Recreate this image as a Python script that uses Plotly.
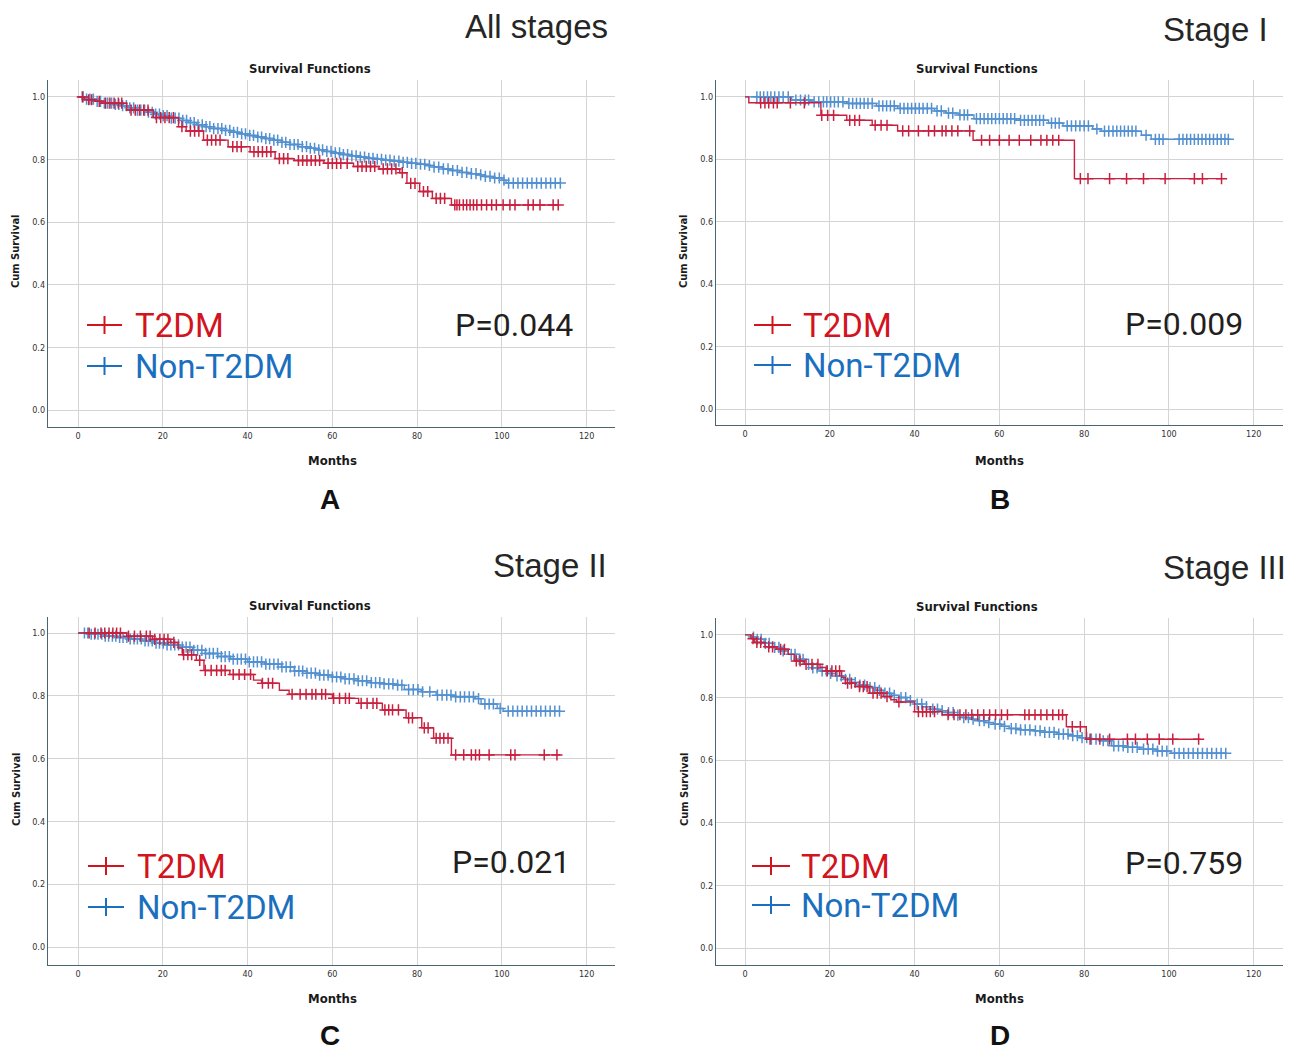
import numpy as np
import plotly.graph_objects as go

# ---------------- DATA ----------------
# Panel A (All stages)
A_t2dm_event_t = [1.5, 4, 5.5, 11.5, 17.8, 23.7, 25.5, 29.6, 35.4, 40.6, 46.5, 51, 58, 65, 71, 75.9, 77.6, 80.6, 83.6, 88.1]
A_t2dm_surv = [0.991, 0.986, 0.98, 0.958, 0.934, 0.905, 0.891, 0.862, 0.841, 0.825, 0.803, 0.797, 0.788, 0.778, 0.77, 0.758, 0.724, 0.698, 0.676, 0.655]
A_t2dm_end = 113.3
A_t2dm_cens = [1, 2.5, 3.2, 5, 6.5, 7.5, 8.5, 9.5, 10.3, 12.5, 13.5, 14.5, 15.5, 16.5, 18.5, 19.5, 20.5, 21.5, 22.5, 24.5,
               26.5, 27.5, 28.5, 30.5, 31.5, 32.5, 33.5, 36.5, 37.5, 38.5, 41.5, 42.5, 43.5, 44.5, 45.5, 47.5, 48.5, 49.5,
               52, 53, 54, 55, 56, 57, 59, 60, 61, 62, 63.5, 66, 67, 68, 69, 70, 72, 73, 74, 75, 76.5, 78.5, 79.5, 81.5,
               82.5, 84.5, 85.5, 86.5, 88.9, 89.4, 90.0, 90.9, 91.7, 92.5, 93.3, 94.1, 95.2, 96.4, 97.6, 98.7, 100.3,
               101.9, 103.1, 106.2, 107.4, 109, 112.1, 113.3]
A_non_event_t = [2, 4, 6, 8, 10, 12, 14, 16, 18, 20, 22, 24, 26, 28, 30, 32, 34, 36, 38, 40, 42, 44, 46, 48, 50, 52, 54,
                 56, 58, 60, 62, 64, 66, 68, 70, 72, 74, 76, 78, 80, 82, 84, 86, 88, 90, 92, 94, 96, 98, 100, 101]
A_non_surv = [0.993, 0.986, 0.98, 0.976, 0.972, 0.965, 0.958, 0.951, 0.945, 0.94, 0.932, 0.925, 0.918, 0.911, 0.905,
              0.899, 0.893, 0.887, 0.882, 0.877, 0.872, 0.867, 0.862, 0.855, 0.848, 0.841, 0.836, 0.831, 0.826, 0.821,
              0.816, 0.812, 0.808, 0.804, 0.801, 0.798, 0.795, 0.791, 0.788, 0.785, 0.781, 0.776, 0.77, 0.765, 0.759,
              0.755, 0.751, 0.746, 0.741, 0.734, 0.725]
A_non_end = 114.0
A_non_cens = [1.2, 2.0, 2.8, 3.6, 4.5, 5.3, 6.2, 7.0, 7.9, 8.8, 9.6, 10.5, 11.4, 12.2, 13.1, 14.0, 14.8, 15.7, 16.6, 17.5,
              18.3, 19.2, 20.1, 21.0, 22.0, 22.9, 23.8, 24.7, 25.6, 26.5, 27.4, 28.3, 29.3, 30.2, 31.1, 32.0, 33.0, 33.9,
              34.8, 35.8, 36.7, 37.6, 38.6, 39.5, 40.5, 41.4, 42.4, 43.3, 44.3, 45.2, 46.2, 47.1, 48.1, 49.0, 50.0,
              51.0, 51.9, 52.9, 53.9, 54.8, 55.8, 56.8, 57.7, 58.7, 59.7, 60.7, 61.7, 62.6, 63.6, 64.6, 65.6, 66.6,
              67.6, 68.6, 69.6, 70.6, 71.6, 72.6, 73.6, 74.6, 75.7, 76.7, 77.7, 78.7, 79.7, 80.8, 81.8, 82.9, 84.0,
              85.1, 86.2, 87.3, 88.4, 89.5, 90.6, 91.7, 92.8, 93.9, 95.0, 96.1, 97.2, 98.3, 99.4, 100.5, 101.6, 102.7,
              103.8, 104.9, 106.0, 107.1, 108.2, 109.3, 110.4, 111.5, 112.6, 113.8]

# Panel B (Stage I)
B_t2dm_event_t = [0.9, 17.9, 24, 30, 36, 53.8, 77.7]
B_t2dm_surv = [0.981, 0.941, 0.925, 0.909, 0.891, 0.861, 0.738]
B_t2dm_end = 112.4
B_t2dm_cens = [3.7, 4.7, 5.6, 6.7, 7.6, 10.7, 14, 18.1, 19.5, 20.9, 24.7, 25.9, 27, 30.7, 32.1, 33.5, 37.2, 38.6, 40.9,
               43.3, 44.7, 46.5, 47.4, 48.8, 50.2, 53, 55.8, 57.7, 60, 62.3, 64.7, 67.4, 69.8, 71.2, 72.6, 74, 79.1,
               80.9, 86, 90, 94, 99.1, 106, 107.9, 112.4]
B_non_event_t = [11, 15.8, 24, 31, 36, 44.7, 47.4, 50.5, 54, 64, 71.6, 75, 82, 84, 93.5, 95.8]
B_non_surv = [0.99, 0.984, 0.979, 0.971, 0.963, 0.955, 0.948, 0.942, 0.93, 0.925, 0.916, 0.907, 0.897, 0.89, 0.877, 0.864]
B_non_end = 114.0
B_non_cens = [2.8, 3.6, 4.4, 5.3, 6.1, 7.0, 8.0, 9.0, 10.2, 12.0, 13.1, 14.2, 15.0, 16.3, 17.4, 18.5, 19.3, 20.2, 21.1,
              22.0, 23.1, 24.5, 25.4, 26.3, 27.2, 28.1, 29.0, 30.0, 31.6, 32.5, 33.4, 34.3, 35.2, 36.6, 37.5, 38.4,
              39.3, 40.2, 41.1, 42.0, 43.0, 44.0, 45.3, 46.3, 48.0, 49.0, 50.7, 51.7, 52.5, 54.6, 55.5, 56.4, 57.3,
              58.2, 59.1, 60.0, 60.9, 61.8, 62.7, 63.6, 65.0, 65.9, 66.8, 67.7, 68.6, 69.5, 70.4, 72.3, 73.2, 74.1,
              76.0, 77.0, 78.0, 79.0, 80.0, 81.0, 83.0, 84.8, 85.8, 86.8, 87.7, 88.6, 89.5, 90.4, 91.3, 92.2, 94.6,
              96.8, 97.7, 98.6, 102.4, 103.3, 104.2, 105.1, 106.0, 106.9, 107.8, 108.7, 109.6, 110.5, 111.4, 112.3,
              113.2, 114.0]

# Panel C (Stage II)
C_t2dm_event_t = [11.5, 17.6, 21.8, 23.6, 24.6, 27.9, 29.7, 35.8, 41.4, 43.3, 47.5, 49.8, 60, 66.2, 71.8, 77.4, 81.1, 83.9, 88.1]
C_t2dm_surv = [0.99, 0.98, 0.97, 0.952, 0.931, 0.913, 0.881, 0.868, 0.85, 0.84, 0.818, 0.805, 0.792, 0.776, 0.755, 0.73, 0.698, 0.665, 0.612]
C_t2dm_end = 113.8
C_t2dm_cens = [2.6, 4.0, 5.4, 6.3, 7.3, 8.2, 9.1, 10.0, 11.9, 13.3, 14.7, 16.1, 17.0, 18.1, 19.3, 20.3, 21.2, 22.6, 24.9,
               25.9, 26.8, 28.7, 30.0, 31.4, 32.7, 33.8, 34.7, 36.6, 38.0, 39.3, 40.7, 43.5, 44.9, 45.9, 50.5, 52.4,
               53.8, 55.2, 56.1, 57.5, 58.4, 60.3, 61.7, 63.1, 64.0, 66.8, 68.2, 69.6, 70.5, 72.4, 73.3, 74.2, 75.6,
               78.0, 78.9, 81.7, 82.6, 84.5, 85.4, 86.3, 87.3, 89.1, 91.0, 92.8, 93.8, 94.7, 97.0, 102.1, 103.1, 110.0, 113.0]
C_non_event_t = [3, 6, 9, 12, 15, 18, 21, 24, 27, 30, 33, 36, 40, 44, 48, 51, 54, 57, 60, 63, 66, 69, 72, 75, 77, 81,
                 84.5, 89, 93.7, 95.1, 98.9, 100.3]
C_non_surv = [0.996, 0.99, 0.986, 0.981, 0.975, 0.968, 0.962, 0.955, 0.945, 0.935, 0.925, 0.917, 0.908, 0.901, 0.892,
              0.879, 0.872, 0.866, 0.86, 0.854, 0.848, 0.842, 0.838, 0.834, 0.82, 0.813, 0.802, 0.797, 0.791, 0.774,
              0.76, 0.751]
C_non_end = 113.8
C_non_cens = [1.5, 2.3, 3.1, 3.9, 4.7, 5.6, 6.4, 7.2, 8.1, 8.9, 9.8, 10.6, 11.5, 12.3, 13.2, 14.0, 14.9, 15.8, 16.6,
              17.5, 18.4, 19.2, 20.1, 21.0, 21.9, 22.8, 23.7, 24.6, 25.5, 26.4, 27.3, 28.2, 29.2, 30.1, 31.0, 31.9,
              32.9, 33.8, 34.7, 35.7, 36.6, 37.6, 38.5, 39.5, 40.4, 41.4, 42.3, 43.3, 44.3, 45.2, 46.2, 47.2, 48.1,
              49.1, 50.1, 51.1, 52.1, 53.0, 54.0, 55.0, 56.0, 57.0, 58.0, 59.0, 60.0, 61.0, 62.0, 63.0, 64.0, 65.1,
              66.1, 67.1, 68.1, 69.2, 70.2, 71.2, 72.2, 73.3, 74.3, 75.4, 76.4, 78.0, 79.1, 80.2, 81.3, 83.0, 84.8,
              85.9, 87.0, 88.0, 89.1, 90.2, 91.2, 92.3, 93.3, 94.5, 96.0, 97.0, 98.0, 99.6, 101.5, 102.6, 103.7,
              104.8, 105.9, 107.0, 108.1, 109.2, 110.3, 111.4, 112.5, 113.6]

# Panel D (Stage III)
D_t2dm_event_t = [1.4, 2.3, 4.7, 7.4, 10.2, 11.6, 14, 17.7, 19.1, 22.8, 23.7, 26, 29.3, 32.6, 34.4, 35.8, 40, 46.5, 75.8, 80.5]
D_t2dm_surv = [0.988, 0.976, 0.962, 0.954, 0.938, 0.917, 0.906, 0.896, 0.885, 0.864, 0.846, 0.835, 0.814, 0.803, 0.793,
               0.786, 0.755, 0.745, 0.707, 0.667]
D_t2dm_end = 107.4
D_t2dm_cens = [1.9, 2.8, 3.7, 5.6, 6.5, 8.4, 9.3, 12.1, 13.0, 14.4, 15.8, 17.2, 19.4, 20.5, 21.4, 22.3, 24.2, 25.1, 27.0,
               27.9, 28.8, 30.2, 31.2, 32.1, 33.5, 36.3, 40.9, 41.9, 42.8, 43.7, 44.7, 47.9, 49.3, 50.7, 52.1, 53.5,
               54.9, 56.3, 57.7, 59.1, 60.5, 61.9, 66.0, 67.0, 68.4, 69.8, 71.2, 72.6, 74.0, 74.9, 77.2, 79.1, 81.4,
               83.7, 86.0, 90.2, 92.1, 94.9, 97.7, 100.9, 107.0]
D_non_event_t = [1.5, 2.8, 4.5, 6.5, 8.5, 10.2, 12, 14, 16, 17.7, 19.5, 21.4, 23.3, 25.1, 27, 28.8, 30.7, 32.6, 34.5,
                 36.3, 38.2, 40, 41.8, 43.7, 45.5, 47.4, 49.3, 51.2, 53, 54.9, 56.8, 58.6, 60.5, 62.3, 65, 67.9, 70.7,
                 73.5, 76.3, 79, 81.5, 83.7, 86.5, 90, 93, 97, 100.5]
D_non_surv = [0.993, 0.986, 0.973, 0.96, 0.949, 0.938, 0.922, 0.906, 0.895, 0.885, 0.877, 0.869, 0.858, 0.848, 0.84,
              0.832, 0.823, 0.814, 0.807, 0.8, 0.79, 0.779, 0.771, 0.763, 0.758, 0.752, 0.744, 0.736, 0.731, 0.726,
              0.72, 0.715, 0.708, 0.701, 0.697, 0.694, 0.689, 0.683, 0.678, 0.672, 0.667, 0.662, 0.646, 0.641, 0.635,
              0.629, 0.622]
D_non_end = 113.5
D_non_cens = [2.0, 2.9, 3.8, 4.8, 5.7, 7.0, 8.0, 9.0, 10.9, 11.8, 12.8, 13.7, 15.0, 16.0, 17.0, 18.2, 19.2, 20.2, 21.7,
              22.7, 23.7, 24.7, 26.0, 27.1, 28.2, 29.5, 30.6, 31.7, 33.0, 34.1, 35.2, 36.8, 37.9, 39.0, 40.6, 41.7,
              42.8, 44.3, 45.4, 46.5, 48.0, 49.1, 50.2, 51.6, 52.7, 53.8, 55.3, 56.4, 57.5, 59.0, 60.1, 61.2, 62.8,
              63.9, 65.0, 66.1, 67.2, 68.5, 69.6, 70.7, 71.8, 72.9, 74.0, 75.1, 76.2, 77.3, 78.4, 79.5, 80.6, 81.7,
              82.8, 84.5, 85.6, 87.0, 88.1, 89.2, 90.3, 91.4, 92.5, 94.0, 95.1, 96.2, 97.3, 98.4, 99.5, 101.3, 102.4,
              103.5, 104.6, 105.7, 106.8, 107.9, 109.0, 110.1, 111.2, 112.3, 113.4]

x_ticks = [0, 20, 40, 60, 80, 100, 120]
y_ticks = [0.0, 0.2, 0.4, 0.6, 0.8, 1.0]
stage_titles = ["All stages", "Stage I", "Stage II", "Stage III"]
p_values = ["P=0.044", "P=0.009", "P=0.021", "P=0.759"]
panel_letters = ["A", "B", "C", "D"]
group_names = ["T2DM", "Non-T2DM"]

# ---------------- STYLE / LAYOUT ----------------
W, H = 1295, 1052
RED = '#c8203e'
BLUE = '#5290d0'
RED_TXT = '#d2141e'
BLUE_TXT = '#1a6fbe'
GRID = '#d4d4d4'
TICKFONT = dict(family="Liberation Sans Narrow, DejaVu Sans Condensed, Arial", size=9, color='#333333')
BOLDFAM = "Liberation Sans Narrow, DejaVu Sans Condensed, Arial"
BIGFAM = "Roboto, Arial"

def px(xp):
    return xp / W

def py(yp):
    return 1 - yp / H

panels = [
    dict(x0=48, x1=615, y0=80, y1=427, xr=[-7.1, 126.7], yr=[-0.054, 1.054],
         red=(A_t2dm_event_t, A_t2dm_surv, A_t2dm_end, A_t2dm_cens),
         blue=(A_non_event_t, A_non_surv, A_non_end, A_non_cens),
         title_xy=(610, 27), sf_xy=(310, 68), cum_xy=(16, 252), mo_xy=(332, 460), let_xy=(330, 499),
         leg_x=(87, 122), leg_y=(325, 366), leg_tx=133, p_xy=(575, 325)),
    dict(x0=716, x1=1283, y0=80, y1=425, xr=[-6.84, 126.9], yr=[-0.051, 1.054],
         red=(B_t2dm_event_t, B_t2dm_surv, B_t2dm_end, B_t2dm_cens),
         blue=(B_non_event_t, B_non_surv, B_non_end, B_non_cens),
         title_xy=(1270, 30), sf_xy=(977, 68), cum_xy=(684, 252), mo_xy=(999, 460), let_xy=(1000, 499),
         leg_x=(754, 791), leg_y=(325, 365), leg_tx=801, p_xy=(1245, 324)),
    dict(x0=48, x1=615, y0=617, y1=965, xr=[-7.1, 126.7], yr=[-0.057, 1.051],
         red=(C_t2dm_event_t, C_t2dm_surv, C_t2dm_end, C_t2dm_cens),
         blue=(C_non_event_t, C_non_surv, C_non_end, C_non_cens),
         title_xy=(609, 565), sf_xy=(310, 605), cum_xy=(16, 790), mo_xy=(332, 998), let_xy=(330, 1035),
         leg_x=(88, 124), leg_y=(866, 907), leg_tx=135, p_xy=(572, 862)),
    dict(x0=716, x1=1283, y0=618, y1=965, xr=[-6.84, 126.9], yr=[-0.054, 1.054],
         red=(D_t2dm_event_t, D_t2dm_surv, D_t2dm_end, D_t2dm_cens),
         blue=(D_non_event_t, D_non_surv, D_non_end, D_non_cens),
         title_xy=(1288, 567), sf_xy=(977, 606), cum_xy=(684, 790), mo_xy=(999, 998), let_xy=(1000, 1035),
         leg_x=(752, 790), leg_y=(866, 905), leg_tx=799, p_xy=(1245, 863)),
]

fig = go.Figure()
annotations = []
shapes = []

def step_xy(ev_t, surv, end):
    xs = [0.0] + list(ev_t) + [end]
    ys = [1.0] + list(surv) + [surv[-1]]
    return xs, ys

def cens_y(ev_t, surv, cens):
    t = np.asarray(ev_t, dtype=float)
    s = np.asarray(surv, dtype=float)
    idx = np.searchsorted(t, np.asarray(cens, dtype=float), side='right') - 1
    return [1.0 if i < 0 else float(s[i]) for i in idx]

for i, p in enumerate(panels):
    n = '' if i == 0 else str(i + 1)
    xa, ya = 'x' + n, 'y' + n
    for key, col in (('blue', BLUE), ('red', RED)):
        ev_t, surv, end, cens = p[key]
        xs, ys = step_xy(ev_t, surv, end)
        fig.add_trace(go.Scatter(x=xs, y=ys, mode='lines', line=dict(color=col, width=1.4, shape='hv'),
                                 xaxis=xa, yaxis=ya, showlegend=False, hoverinfo='skip'))
        fig.add_trace(go.Scatter(x=cens, y=cens_y(ev_t, surv, cens), mode='markers',
                                 marker=dict(symbol='cross-thin', size=8, color=col, line=dict(width=1.5, color=col)),
                                 xaxis=xa, yaxis=ya, showlegend=False, hoverinfo='skip'))
    xdom = [px(p['x0']), px(p['x1'])]
    ydom = [py(p['y1']), py(p['y0'])]
    fig.layout['xaxis' + n] = dict(domain=xdom, range=p['xr'], anchor=ya, tickvals=x_ticks,
                                   showgrid=True, gridcolor=GRID, gridwidth=1.2, zeroline=False,
                                   showline=True, linecolor='#4a6470', linewidth=1.2, ticks='',
                                   tickfont=TICKFONT, fixedrange=True)
    fig.layout['yaxis' + n] = dict(domain=ydom, range=p['yr'], anchor=xa, tickvals=y_ticks, tickformat='.1f',
                                   showgrid=True, gridcolor=GRID, gridwidth=1.2, zeroline=False,
                                   showline=True, linecolor='#4a6470', linewidth=1.2, ticks='',
                                   tickfont=TICKFONT, fixedrange=True)

    def ann(text, xy, size, color='#222222', fam=BOLDFAM, xanchor='center', angle=0):
        annotations.append(dict(text=text, x=px(xy[0]), y=py(xy[1]), xref='paper', yref='paper',
                                showarrow=False, xanchor=xanchor, yanchor='middle', textangle=angle,
                                font=dict(family=fam, size=size, color=color)))

    ann(stage_titles[i], p['title_xy'], 33, color='#262626', fam="Liberation Sans, Arial", xanchor='right')
    ann('<b>Survival Functions</b>', p['sf_xy'], 13, color='#1a1a1a')
    ann('<b>Cum Survival</b>', p['cum_xy'], 11, color='#1a1a1a', angle=-90)
    ann('<b>Months</b>', p['mo_xy'], 13, color='#1a1a1a')
    ann('<b>' + panel_letters[i] + '</b>', p['let_xy'], 28, color='#111111', fam="Liberation Sans, Arial")
    ann(p_values[i], p['p_xy'], 32, color='#231f20', fam=BIGFAM, xanchor='right')
    for gname, ly, col in ((group_names[0], p['leg_y'][0], RED_TXT), (group_names[1], p['leg_y'][1], BLUE_TXT)):
        lx0, lx1 = p['leg_x']
        shapes.append(dict(type='line', xref='paper', yref='paper', x0=px(lx0), x1=px(lx1), y0=py(ly), y1=py(ly),
                           line=dict(color=col, width=2)))
        mx = (lx0 + lx1) / 2
        shapes.append(dict(type='line', xref='paper', yref='paper', x0=px(mx), x1=px(mx), y0=py(ly - 9), y1=py(ly + 9),
                           line=dict(color=col, width=2)))
        ann(gname, (p['leg_tx'], ly), 33, color=col, fam=BIGFAM, xanchor='left')

fig.update_layout(width=W, height=H, margin=dict(l=0, r=0, t=0, b=0), paper_bgcolor='white',
                  plot_bgcolor='white', annotations=annotations, shapes=shapes, showlegend=False)

fig.write_html("out.html", config={'displayModeBar': False},
               post_script="document.body.style.margin='0';document.body.style.padding='0';"
                           "document.documentElement.style.overflow='hidden';")
